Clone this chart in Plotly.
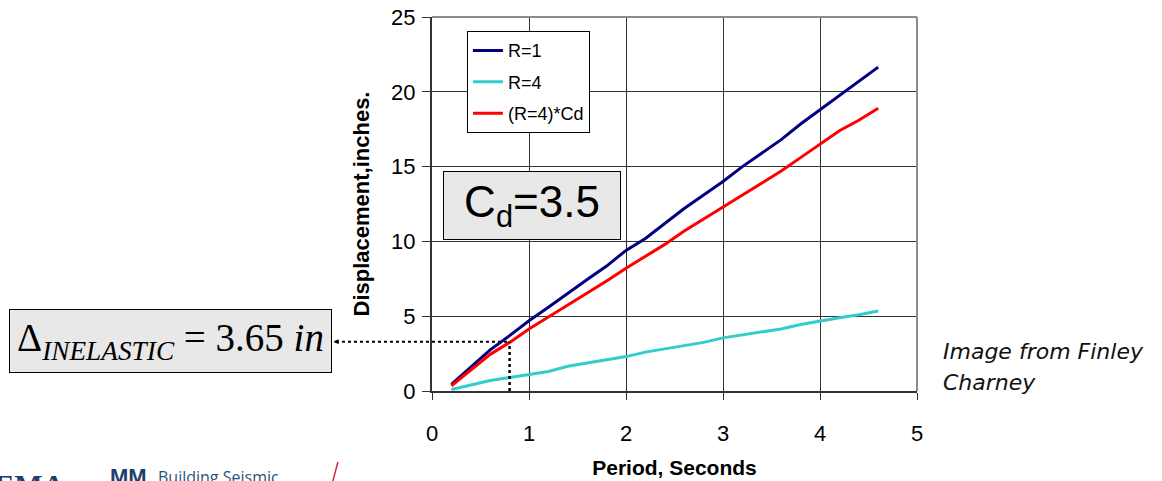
import plotly.graph_objects as go

# ---- data ----
period = [0.2, 0.4, 0.6, 0.8, 1.0, 1.2, 1.4, 1.6, 1.8, 2.0, 2.2, 2.4, 2.6, 2.8,
          3.0, 3.2, 3.4, 3.6, 3.8, 4.0, 4.2, 4.4, 4.6]
disp_r1 = [0.45, 1.6, 2.75, 3.7, 4.7, 5.6, 6.55, 7.45, 8.35, 9.4, 10.2, 11.2, 12.2, 13.1,
           14.0, 15.0, 15.9, 16.8, 17.85, 18.8, 19.8, 20.7, 21.65]
disp_r4 = [0.1, 0.4, 0.7, 0.9, 1.1, 1.3, 1.65, 1.85, 2.05, 2.3, 2.6, 2.8, 3.05, 3.25,
           3.55, 3.75, 3.95, 4.15, 4.45, 4.7, 4.9, 5.1, 5.35]
disp_r4cd = [0.35, 1.4, 2.45, 3.25, 4.15, 4.95, 5.75, 6.5, 7.35, 8.2, 9.0, 9.8, 10.7, 11.5,
             12.3, 13.1, 13.9, 14.7, 15.6, 16.5, 17.4, 18.1, 18.9]
series_names = ["R=1", "R=4", "(R=4)*Cd"]
series_colors = ["#000080", "#33CCCC", "#FF0000"]
x_ticks = [0, 1, 2, 3, 4, 5]
y_ticks = [0, 5, 10, 15, 20, 25]
marker_period = 0.8
marker_disp = 3.3

fig = go.Figure()
for name, ys, col in zip(series_names, [disp_r1, disp_r4, disp_r4cd], series_colors):
    fig.add_trace(go.Scatter(x=period, y=ys, mode="lines", name=name, legendgroup=name,
                             line=dict(color=col, width=3)))

axis_font = dict(family="Liberation Sans, Arial", size=22, color="black")
fig.update_layout(
    width=1162, height=481,
    margin=dict(l=432, r=245, t=17, b=90),
    paper_bgcolor="white", plot_bgcolor="white",
    showlegend=True,
    legend=dict(x=0.072, y=0.962, xanchor="left", yanchor="top",
                bgcolor="white", bordercolor="black", borderwidth=1,
                font=dict(family="Liberation Sans, Arial", size=18, color="black"),
                tracegroupgap=5, itemwidth=30),
    xaxis=dict(range=[0, 5], tickvals=x_ticks, showgrid=True, gridcolor="#333333", gridwidth=1,
               showline=True, linecolor="#333333", linewidth=2, ticks="outside", ticklen=7,
               tickcolor="#333333", tickfont=axis_font, ticklabelstandoff=15, zeroline=False,
               automargin=False,
               title=dict(text="<b>Period, Seconds</b>",
                          font=dict(family="Liberation Sans, Arial", size=21, color="black"))),
    yaxis=dict(range=[0, 25], tickvals=y_ticks, showgrid=True, gridcolor="#333333", gridwidth=1,
               showline=True, linecolor="#333333", linewidth=2, ticks="outside", ticklen=8,
               tickcolor="#333333", tickfont=axis_font, ticklabelstandoff=2, zeroline=False,
               automargin=False,
               title=dict(text="<b>Displacement,inches.</b>",
                          font=dict(family="Liberation Sans, Arial", size=22, color="black"))),
)

shapes = [
    # gray top/right borders
    dict(type="line", xref="paper", yref="paper", x0=0, x1=1, y0=1, y1=1,
         line=dict(color="#8c8c8c", width=2)),
    dict(type="line", xref="paper", yref="paper", x0=1, x1=1, y0=0, y1=1,
         line=dict(color="#8c8c8c", width=2)),
    # dotted guide lines
    dict(type="line", xref="x", yref="y", x0=marker_period, x1=marker_period, y0=0, y1=marker_disp,
         line=dict(color="black", width=2.5, dash="dot")),
    dict(type="line", xref="paper", yref="y", x0=-0.198, x1=marker_period / 5, y0=marker_disp,
         y1=marker_disp, line=dict(color="black", width=2, dash="dot")),
    # fragment of cropped logo
    dict(type="line", xref="paper", yref="paper", x0=-0.2045, x1=-0.194, y0=-0.241, y1=-0.19,
         line=dict(color="#d6263a", width=1.5)),
]
fig.update_layout(shapes=shapes)

annotations = [
    dict(xref="paper", yref="paper", x=0.2056, y=0.497, xanchor="center", yanchor="middle",
         text="C<sub>d</sub>=3.5", showarrow=False, bgcolor="#e8e8e8", bordercolor="black",
         borderwidth=1, borderpad=0, width=176, height=67,
         font=dict(family="Liberation Sans, Arial", size=44, color="black")),
    dict(xref="paper", yref="paper", x=-0.5395, y=0.135, xanchor="center", yanchor="middle",
         text="Δ<sub><i>INELASTIC</i></sub> = 3.65 <i>in</i>", showarrow=False,
         bgcolor="#e8e8e8", bordercolor="black", borderwidth=1, borderpad=0, width=321, height=62,
         font=dict(family="Liberation Serif, Times New Roman", size=39, color="black")),
    # small arrow head at box
    dict(xref="paper", yref="y", x=-0.203, y=marker_disp, ax=5, ay=0, text="", showarrow=True,
         arrowhead=2, arrowsize=0.5, arrowwidth=2, arrowcolor="black"),
    dict(xref="paper", yref="paper", x=1.05, y=0.105, xanchor="left", yanchor="middle",
         text="<i>Image from Finley</i>", showarrow=False, align="left",
         font=dict(family="DejaVu Sans", size=22, color="#111111")),
    dict(xref="paper", yref="paper", x=1.05, y=0.022, xanchor="left", yanchor="middle",
         text="<i>Charney</i>", showarrow=False, align="left",
         font=dict(family="DejaVu Sans", size=22, color="#111111")),
    # cropped logos at bottom
    dict(xref="paper", yref="paper", x=-0.945, y=-0.2, xanchor="left", yanchor="top",
         text="<b>FEMA</b>", showarrow=False,
         font=dict(family="Liberation Serif", size=30, color="#1f3f6e")),
    dict(xref="paper", yref="paper", x=-0.668, y=-0.19, xanchor="left", yanchor="top",
         text="<b>MM</b>", showarrow=False,
         font=dict(family="Liberation Sans Narrow, Liberation Sans", size=22, color="#1f3f6e")),
    dict(xref="paper", yref="paper", x=-0.569, y=-0.195, xanchor="left", yanchor="top",
         text="Building Seismic", showarrow=False,
         font=dict(family="Open Sans", size=16, color="#2b5278")),
]
fig.update_layout(annotations=annotations)

fig.write_html("out.html", config={"displayModeBar": False},
               post_script="document.body.style.margin='0';")
